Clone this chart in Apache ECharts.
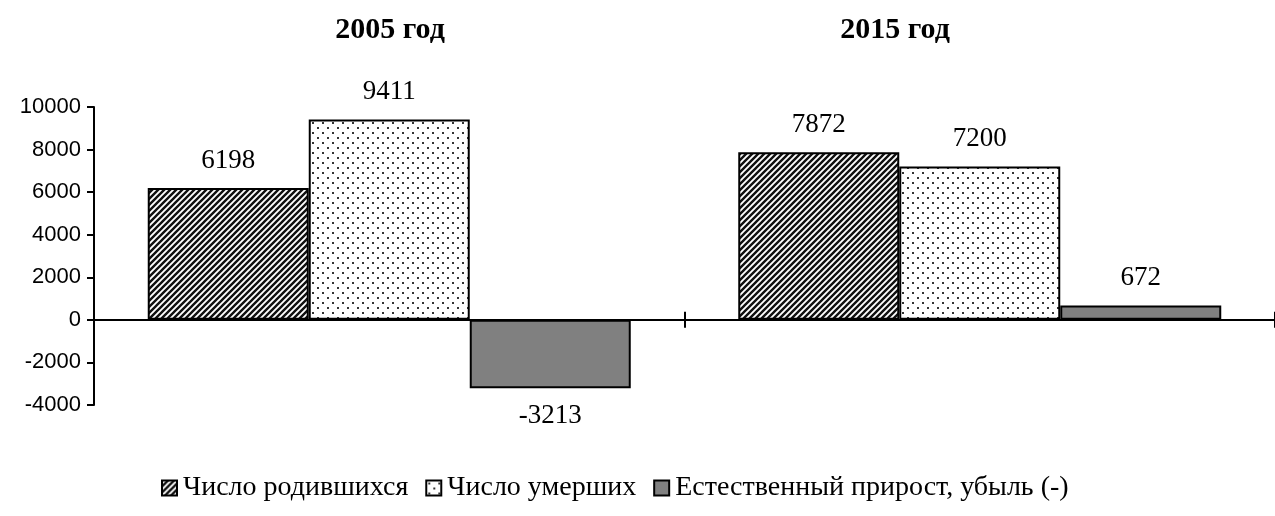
<!DOCTYPE html>
<html><head><meta charset="utf-8">
<script src="https://cdn.jsdelivr.net/npm/echarts@6/dist/echarts.min.js"></script>
<style>html,body{margin:0;padding:0;background:#fff}#c{width:1275px;height:516px}</style>
</head><body><div id="c"></div>
<script>
const categories = ['2005 год', '2015 год'];
const births = [6198, 7872];
const deaths = [9411, 7200];
const growth = [-3213, 672];
const seriesNames = ['Число родившихся', 'Число умерших', 'Естественный прирост, убыль (-)'];
const yTicks = { min: -4000, max: 10000, interval: 2000 };

function hatch() {
  const c = document.createElement('canvas'); c.width = 6; c.height = 6;
  const g = c.getContext('2d');
  g.fillStyle = '#fff'; g.fillRect(0, 0, 6, 6);
  g.strokeStyle = '#111'; g.lineWidth = 2.4;
  g.beginPath();
  g.moveTo(-1, 7); g.lineTo(7, -1);
  g.moveTo(-4, 4); g.lineTo(4, -4);
  g.moveTo(2, 10); g.lineTo(10, 2);
  g.stroke();
  return c;
}
function dots() {
  const c = document.createElement('canvas'); c.width = 10; c.height = 10;
  const g = c.getContext('2d');
  g.fillStyle = '#fff'; g.fillRect(0, 0, 10, 10);
  g.fillStyle = '#333';
  g.fillRect(2, 2, 2, 2); g.fillRect(7, 7, 2, 2);
  return c;
}
const fills = [
  { image: hatch(), repeat: 'repeat' },
  { image: dots(), repeat: 'repeat' },
  '#808080'
];
const serif = 'Liberation Serif, Times New Roman, serif';

function mkSeries(name, vals, fill) {
  return {
    name: name, type: 'bar', barWidth: 161, barGap: '0%',
    xAxisIndex: 0, yAxisIndex: 0,
    itemStyle: { color: fill, borderColor: '#000', borderWidth: 2 },
    data: vals.map(v => ({
      value: v,
      label: { position: v < 0 ? 'bottom' : 'top' }
    })),
    label: { show: true, distance: 14, fontFamily: serif, fontSize: 27, color: '#000' }
  };
}

const titleStyle = { fontFamily: serif, fontSize: 30, fontWeight: 'bold', color: '#000' };
const gridBox = { left: 94, right: -8, top: 107, bottom: 111, containLabel: false };

const chart = echarts.init(document.getElementById('c'), null, { renderer: 'canvas' });
chart.setOption({
  animation: false,
  backgroundColor: '#fff',
  title: [
    { text: categories[0], left: 385, top: 10, textAlign: 'center', textStyle: titleStyle },
    { text: categories[1], left: 890, top: 10, textAlign: 'center', textStyle: titleStyle }
  ],
  grid: [Object.assign({}, gridBox), Object.assign({}, gridBox)],
  legend: {
    bottom: 9, left: 156, itemWidth: 15, itemHeight: 15, itemGap: 17, icon: 'rect',
    textStyle: { fontFamily: serif, fontSize: 28, color: '#000', padding: [0, 0, 0, 1] },
    data: seriesNames
  },
  xAxis: [{
    gridIndex: 0, type: 'category', data: categories,
    axisLine: { onZero: true, lineStyle: { color: '#000', width: 2 } },
    axisTick: { show: true, length: 8, inside: false, lineStyle: { color: '#000', width: 2 } },
    axisLabel: { show: false }, splitLine: { show: false }
  }, {
    gridIndex: 1, type: 'category', data: categories,
    axisLine: { onZero: true, lineStyle: { color: '#000', width: 2 } },
    axisTick: { show: true, length: 8, inside: true, lineStyle: { color: '#000', width: 2 } },
    axisLabel: { show: false }, splitLine: { show: false }
  }],
  yAxis: [{
    gridIndex: 0, type: 'value', min: yTicks.min, max: yTicks.max, interval: yTicks.interval,
    axisLine: { show: true, onZero: false, lineStyle: { color: '#000', width: 2 } },
    axisTick: { show: true, length: 7, lineStyle: { color: '#000', width: 2 } },
    axisLabel: { fontFamily: 'Liberation Sans, Arial, sans-serif', fontSize: 22, color: '#000', margin: 13,
      formatter: v => String(v) },
    splitLine: { show: false }
  }, {
    gridIndex: 1, type: 'value', min: yTicks.min, max: yTicks.max, interval: yTicks.interval,
    show: false, splitLine: { show: false }
  }],
  series: [
    mkSeries(seriesNames[0], births, fills[0]),
    mkSeries(seriesNames[1], deaths, fills[1]),
    mkSeries(seriesNames[2], growth, fills[2])
  ]
});
</script></body></html>
